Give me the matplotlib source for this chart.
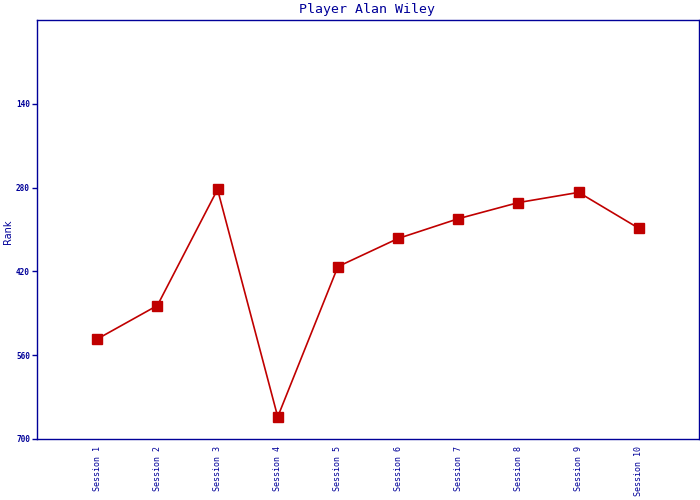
import matplotlib
matplotlib.use("Agg")
import matplotlib.pyplot as plt

sessions = ["Session 1", "Session 2", "Session 3", "Session 4", "Session 5",
            "Session 6", "Session 7", "Session 8", "Session 9", "Session 10"]
ranks = [533, 477, 283, 663, 412, 365, 332, 305, 288, 348]
yticks = [140, 280, 420, 560, 700]

navy = "#000099"
red = "#c00000"

fig = plt.figure(figsize=(7, 5), dpi=100)
ax = fig.add_axes([37/700, 1-439/500, (699-37)/700, (439-20)/500])
x = list(range(len(sessions)))
ax.plot(x, ranks, color=red, lw=1.2, marker="s", markersize=7.2,
        markerfacecolor=red, markeredgecolor=red)
ax.set_xlim(-1, 10)
ax.set_ylim(700, 0)
ax.set_yticks(yticks)
ax.set_yticklabels([str(v) for v in yticks], fontfamily="DejaVu Sans Mono",
                   fontsize=5.6, fontweight="bold", color=navy)
ax.set_xticks(x)
ax.set_xticklabels(sessions, rotation=90, fontfamily="DejaVu Sans Mono",
                   fontsize=6, color=navy, va="top")
ax.tick_params(axis="x", length=0, pad=5)
ax.tick_params(axis="y", length=3.6, color=navy, width=1, pad=1.5)
for s in ax.spines.values():
    s.set_color(navy)
    s.set_linewidth(1)
fig.text(8/700, 1-232/500, "Rank", rotation=90, fontsize=7, color=navy,
         ha="center", va="center")
fig.text(367/700, 1-9/500, "Player Alan Wiley",
         fontfamily="DejaVu Sans Mono", fontsize=9.5, color=navy,
         ha="center", va="center")
fig.savefig("out.png", dpi=100)
